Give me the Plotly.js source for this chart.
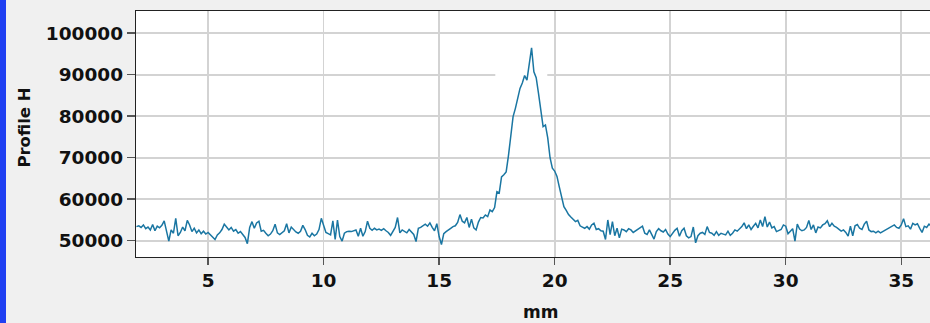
<!DOCTYPE html>
<html>
<head>
<meta charset="utf-8">
<script src="https://cdn.plot.ly/plotly-3.0.1.min.js"></script>
<style>
html, body { margin:0; padding:0; background:#f0f0f0; overflow:hidden; width:930px; height:323px; }
#wrap { position:relative; width:930px; height:323px; overflow:hidden; }
#bar { position:absolute; left:0; top:0; width:6px; height:323px; background:#1f3ff2; z-index:5; }
#chart { position:absolute; left:0; top:0; width:945px; height:323px; }
</style>
</head>
<body>
<div id="wrap"><div id="bar"></div><div id="chart"></div></div>
<script>
// sampling grid (mm)
const xStart = 1.9;
const xStep = 0.1;

// Profile H values, one per 0.1 mm starting at 1.9 mm
const profileH = [
  53400, 53600, 53200, 53800, 52900, 53300, 52600, 53900, 52400, 53500,
  53100, 53700, 54800, 52000, 49900, 52600, 51800, 55400, 51200, 52000,
  53300, 52400, 54900, 53800, 52200, 53000, 51900, 52600, 51700, 52300,
  51600, 52000, 51500, 51000, 50300, 51400, 51900, 52700, 54000, 53300,
  52600, 53200, 52300, 52700, 51800, 52200, 51500, 50800, 49300, 53200,
  54600, 53000, 54300, 54700, 52300, 52500, 51800, 51200, 51600, 52400,
  54000, 51900, 51500, 52000, 52400, 54100, 51900, 53300, 52700, 52100,
  51800, 52300, 53700, 52700, 51300, 50900, 51800, 51200, 51600, 52700,
  55400, 53400, 52000, 51700, 51400, 54800, 50300, 55000, 51000, 49900,
  51800, 52200, 52300, 52200, 52400, 52600, 51100, 53000, 51100, 52200,
  54700, 53000, 52500, 53000, 52600, 52800, 52500, 52900, 52400, 52000,
  51300, 52300, 53200, 55600, 51900, 52600, 52300, 51900, 52700, 52100,
  51500, 49800, 53000, 53200, 53700, 54000, 53500, 54300, 53200, 52400,
  54100, 51000, 49100, 51700, 52200, 52500, 53000, 53400, 53600, 54400,
  56300, 54700, 54300, 55600, 53200, 55200, 53100, 52600, 54500, 55600,
  55500, 56200, 55800, 57400, 57000, 58000, 61800, 61500, 65400, 65900,
  66600, 70500, 76000, 79900, 81900, 84600, 86700, 88000, 89800, 88700,
  92300, 96500, 90700, 89300, 85500, 81300, 77500, 77900, 74800, 70000,
  67500, 66800, 65500, 63000, 60200, 58200, 57300, 56300, 55700, 55200,
  54600, 54900, 53600, 53300, 53000, 53400, 52800, 53800, 54200, 52700,
  52900, 52400, 52300, 50300, 55000, 51500, 54600, 51200, 53000, 50700,
  52800, 52600, 52200, 52900, 52600, 52000, 52400, 52800, 53200, 53500,
  51800, 51500, 52600, 51400, 50400, 52200, 52900, 52400, 52100, 52700,
  51600, 51000, 51800, 52500, 53000, 51100, 52400, 53000, 51200, 50700,
  51000, 53300, 49500, 51200, 51800, 52000, 51500, 53400, 52000, 51800,
  51300, 52200, 51300, 51800, 51600, 51400, 52300, 51300, 51800, 52600,
  52300, 52900, 53400, 54300, 52900, 53800, 52700, 53500, 54200, 53100,
  55000, 53400, 55800, 53300, 54500, 53100, 53400, 52200, 52400, 52700,
  53800, 53500, 51700, 52300, 52900, 49900, 54000, 52800, 52400, 52600,
  53200, 54900, 52700, 53800, 51900, 53300, 53100, 53800, 54100, 54800,
  53400, 54200, 53500, 53200, 52800, 52300, 52600, 52000, 51100, 53500,
  51200, 53600, 53900, 53000, 52700, 54000, 54700, 52600, 52200, 52300,
  51900, 52300, 51900, 52200, 52500, 52700, 53000, 53500, 53800, 53200,
  53000, 53800, 55300, 53400, 53600, 52800, 54200, 53800, 54100, 53000,
  52000, 53500, 53200, 54000, 53400, 53000, 53200, 53600, 53100, 53500
];

const xValues = profileH.map((_, i) => +(xStart + i * xStep).toFixed(2));

const xTicks = [5, 10, 15, 20, 25, 30, 35];
const yTicks = [50000, 60000, 70000, 80000, 90000, 100000];

const tickFont = { family: 'DejaVu Sans, sans-serif', size: 18.5, color: '#111111', weight: 'bold' };

const trace = {
  x: xValues,
  y: profileH,
  type: 'scatter',
  mode: 'lines',
  line: { color: '#1a76a2', width: 1.5 },
  hoverinfo: 'skip'
};

const layout = {
  width: 945,
  height: 323,
  margin: { l: 136, r: 1, t: 11, b: 66 },
  paper_bgcolor: '#f0f0f0',
  plot_bgcolor: '#ffffff',
  showlegend: false,
  xaxis: {
    range: [1.88, 36.85],
    tickvals: xTicks,
    ticktext: xTicks.map(String),
    showgrid: true,
    gridcolor: '#d3d3d3',
    gridwidth: 1.7,
    zeroline: false,
    showline: true,
    linecolor: '#222',
    linewidth: 1.2,
    mirror: true,
    ticks: 'outside',
    ticklen: 7,
    tickwidth: 1.5,
    tickcolor: '#555',
    tickfont: tickFont
  },
  yaxis: {
    range: [46080, 105360],
    tickvals: yTicks,
    ticktext: yTicks.map(String),
    showgrid: true,
    gridcolor: '#d3d3d3',
    gridwidth: 1.7,
    zeroline: false,
    showline: true,
    linecolor: '#222',
    linewidth: 1.2,
    mirror: true,
    ticks: 'outside',
    ticklen: 8,
    tickwidth: 1.5,
    tickcolor: '#555',
    tickfont: tickFont
  },
  shapes: [{
    type: 'rect', layer: 'between', xref: 'x', yref: 'y',
    x0: 17.43, x1: 19.68, y0: 89500, y1: 90500,
    fillcolor: '#ffffff', line: { width: 0 }
  }],
  annotations: [
    {
      text: 'Profile H', xref: 'paper', yref: 'paper',
      x: -0.138, y: 0.528, xanchor: 'center', yanchor: 'middle',
      textangle: -90, showarrow: false,
      font: { family: 'DejaVu Sans, sans-serif', size: 16.5, color: '#111111', weight: 'bold' }
    },
    {
      text: 'mm', xref: 'paper', yref: 'paper',
      x: 0.5, y: -0.2256, xanchor: 'center', yanchor: 'middle',
      showarrow: false,
      font: { family: 'DejaVu Sans, sans-serif', size: 17, color: '#111111', weight: 'bold' }
    }
  ]
};

Plotly.newPlot('chart', [trace], layout, { staticPlot: true, displayModeBar: false });
</script>
</body>
</html>
